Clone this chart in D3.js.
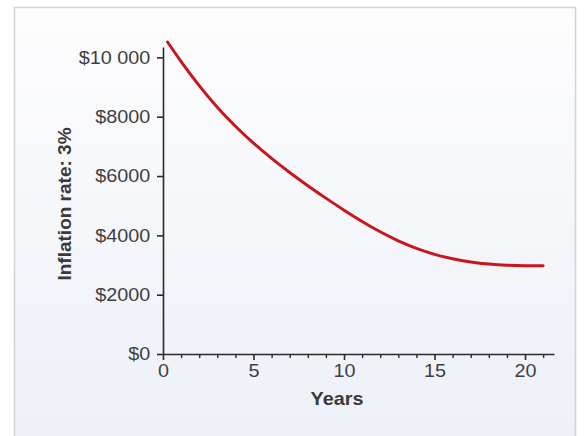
<!DOCTYPE html>
<html>
<head>
<meta charset="utf-8">
<script src="https://cdn.jsdelivr.net/npm/d3@7"></script>
<style>
  html, body { margin: 0; padding: 0; background: #ffffff; }
  svg { display: block; }
</style>
</head>
<body>
<svg id="chart" width="585" height="436"></svg>
<script>
// ---- Data ----
const years = [0.25, 1, 2, 3, 4, 5, 6, 7, 8, 9, 10, 11, 12, 13, 14, 15, 16, 17, 18, 19, 20, 21];
const values = [10520, 9860, 9050, 8320, 7680, 7110, 6595, 6120, 5675, 5255, 4850, 4470, 4120, 3815, 3560, 3360, 3210, 3105, 3035, 2995, 2978, 2976];
const yTickValues = [0, 2000, 4000, 6000, 8000, 10000];
const yTickLabels = ["$0", "$2000", "$4000", "$6000", "$8000", "$10 000"];
const xMajorTicks = [0, 5, 10, 15, 20];
const xMinorTicks = [1, 2, 3, 4, 6, 7, 8, 9, 11, 12, 13, 14, 16, 17, 18, 19, 21];
const xTitle = "Years";
const yTitle = "Inflation rate: 3%";

const svg = d3.select("#chart");
const font = "'Liberation Sans', Arial, Helvetica, sans-serif";
const stretch = "scale(1.1,1)";

// panel background
const defs = svg.append("defs");
const grad = defs.append("linearGradient").attr("id", "bg").attr("x1", 0).attr("y1", 0).attr("x2", 0).attr("y2", 1);
grad.append("stop").attr("offset", "0%").attr("stop-color", "#fdfdfe");
grad.append("stop").attr("offset", "100%").attr("stop-color", "#edf0f7");
svg.append("rect")
  .attr("x", 14.5).attr("y", 7.5).attr("width", 561).attr("height", 440)
  .attr("fill", "url(#bg)").attr("stroke", "#d2d3d8").attr("stroke-width", 1.5);

// scales
const x = d3.scaleLinear().domain([0, 21.6]).range([163, 554]);
const y = d3.scaleLinear().domain([0, 10350]).range([354, 47]);

const axisColor = "#2b2b2b";
const textColor = "#3f3f3f";

// y axis
const yAxis = svg.append("g").attr("transform", "translate(163,0)")
  .call(d3.axisLeft(y).tickValues(yTickValues).tickSize(6).tickSizeOuter(0)
    .tickFormat((d, i) => yTickLabels[i]));
yAxis.selectAll("path, line").attr("stroke", axisColor).attr("stroke-width", 1.6);
yAxis.selectAll("text")
  .attr("x", -11.5)
  .attr("transform", stretch)
  .attr("fill", textColor)
  .style("font-family", font).style("font-size", "18px");

// x axis minor ticks
const xMinor = svg.append("g").attr("transform", "translate(0,354)")
  .call(d3.axisBottom(x).tickValues(xMinorTicks).tickSize(4).tickSizeOuter(0).tickFormat(""));
xMinor.select("path").remove();
xMinor.selectAll("line").attr("stroke", axisColor).attr("stroke-width", 1.4);

// x axis major
const xAxis = svg.append("g").attr("transform", "translate(0,354)")
  .call(d3.axisBottom(x).tickValues(xMajorTicks).tickSize(6).tickSizeOuter(0));
xAxis.selectAll("path, line").attr("stroke", axisColor).attr("stroke-width", 1.6);
xAxis.selectAll("text")
  .attr("x", 0)
  .attr("y", 10)
  .attr("transform", stretch)
  .attr("fill", textColor)
  .style("font-family", font).style("font-size", "18px");

// axis titles
svg.append("text")
  .attr("transform", "translate(337,405) scale(1.1,1)")
  .attr("text-anchor", "middle")
  .attr("fill", "#3a3a3a")
  .style("font-family", font).style("font-size", "18px").style("font-weight", "bold")
  .text(xTitle);

svg.append("text")
  .attr("transform", "translate(71,204) rotate(-90)")
  .attr("text-anchor", "middle")
  .attr("fill", "#3a3a3a")
  .style("font-family", font).style("font-size", "19px").style("font-weight", "bold")
  .text(yTitle);

// curve
const line = d3.line().x((d, i) => x(years[i])).y(d => y(d)).curve(d3.curveNatural);
svg.append("path")
  .datum(values)
  .attr("d", line)
  .attr("fill", "none")
  .attr("stroke", "#c9161c")
  .attr("stroke-width", 3)
  .attr("stroke-linecap", "round");
</script>
</body>
</html>
